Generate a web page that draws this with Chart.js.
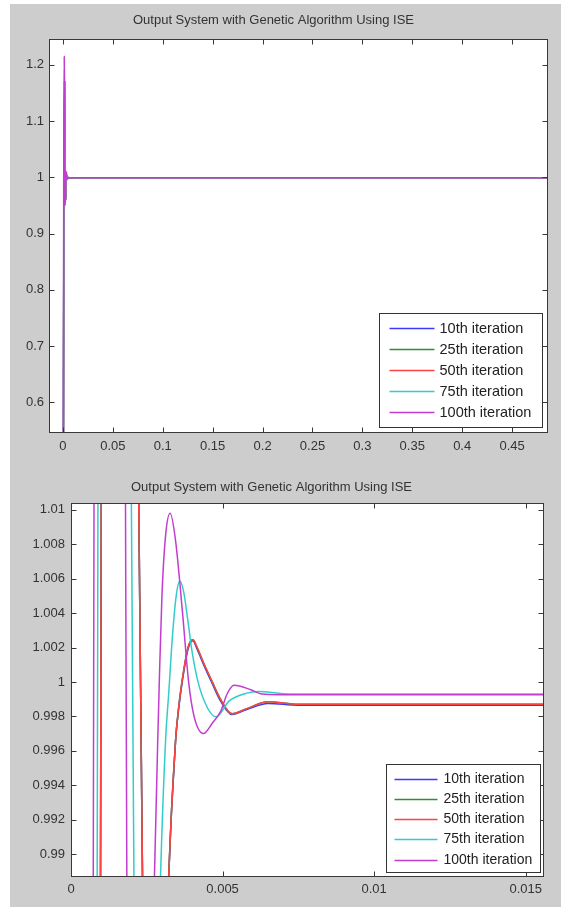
<!DOCTYPE html>
<html>
<head>
<meta charset="utf-8">
<script src="https://cdn.jsdelivr.net/npm/chart.js@4.4.1/dist/chart.umd.min.js"></script>
<style>
  html, body { margin: 0; padding: 0; background: #fff; }
  #figure { position: absolute; left: 10px; top: 4px; width: 551px; height: 903px; background: #cdcdcd; }
  canvas { position: absolute; left: 0; }
  #topCanvas { top: 0; }
  #bottomCanvas { top: 460px; }
</style>
</head>
<body>
<div id="figure"></div>
<canvas id="topCanvas" width="561" height="460"></canvas>
<canvas id="bottomCanvas" width="561" height="447"></canvas>
<script>
const seriesLabels = ['10th iteration', '25th iteration', '50th iteration', '75th iteration', '100th iteration'];
const seriesColors = ['#3a3aff', '#2d8f2d', '#ff4242', '#33cccc', '#c23ccf'];

// step responses (time in s, output)
const time10 = [0, 0.0006, 0.00097, 0.00101, 0.0016, 0.00218, 0.00238, 0.0028, 0.00322, 0.00345, 0.00355, 0.00366, 0.00386, 0.00402, 0.00416, 0.0044, 0.00466, 0.00493, 0.00531, 0.0058, 0.0065, 0.0075, 0.5];
const resp10 = [0, 0.65, 0.985, 1.02, 1.17, 1.02, 0.985, 0.96, 0.9885, 0.9966, 0.9984, 0.9999, 1.0019, 1.0024, 1.0019, 1.0009, 0.9999, 0.9989, 0.9981, 0.9984, 0.99875, 0.99865, 0.99865];

const time25 = [0, 0.0006, 0.00097, 0.00101, 0.0016, 0.00218, 0.00238, 0.0028, 0.00322, 0.00345, 0.00355, 0.00366, 0.00386, 0.00402, 0.00416, 0.0044, 0.00466, 0.00493, 0.00531, 0.0058, 0.0065, 0.0075, 0.5];
const resp25 = [0, 0.65, 0.985, 1.02, 1.17, 1.02, 0.985, 0.96, 0.9885, 0.9966, 0.9985, 1.0, 1.002, 1.00245, 1.002, 1.001, 1.0, 0.999, 0.99815, 0.99845, 0.99885, 0.9987, 0.9987];

const time50 = [0, 0.0006, 0.00097, 0.00101, 0.0016, 0.00218, 0.00238, 0.0028, 0.00322, 0.00345, 0.00355, 0.00366, 0.00386, 0.00402, 0.00416, 0.0044, 0.00466, 0.00493, 0.00531, 0.0058, 0.0065, 0.0075, 0.5];
const resp50 = [0, 0.65, 0.985, 1.02, 1.17, 1.02, 0.985, 0.96, 0.9885, 0.9966, 0.9985, 1.0, 1.002, 1.00245, 1.002, 1.001, 1.0, 0.999, 0.99815, 0.99845, 0.99885, 0.9987, 0.9987];

const time75 = [0, 0.0005, 0.00086, 0.0009, 0.0014, 0.00196, 0.00209, 0.0025, 0.00295, 0.00312, 0.00323, 0.00334, 0.00347, 0.00359, 0.00372, 0.00386, 0.00399, 0.00419, 0.0045, 0.00479, 0.00522, 0.0058, 0.0062, 0.0072, 0.5];
const resp75 = [0, 0.6, 0.985, 1.02, 1.19, 1.02, 0.985, 0.955, 0.9885, 0.9966, 0.9995, 1.0025, 1.005, 1.00586, 1.0052, 1.0035, 1.0018, 1.0, 0.9985, 0.99797, 0.9989, 0.99935, 0.99944, 0.9993, 0.9993];

const time100 = [0, 0.0004, 0.00073, 0.00077, 0.0013, 0.00178, 0.00185, 0.0023, 0.00275, 0.00286, 0.00292, 0.003, 0.00312, 0.00327, 0.00345, 0.00368, 0.00388, 0.00406, 0.00437, 0.00466, 0.00494, 0.00515, 0.00538, 0.00593, 0.0063, 0.0075, 0.5];
const resp100 = [0, 0.55, 0.985, 1.02, 1.215, 1.02, 0.985, 0.95, 0.9885, 0.9965, 1.0005, 1.005, 1.0085, 1.0098, 1.0082, 1.004, 1.0, 0.998, 0.997, 0.9976, 0.9983, 0.9993, 0.9998, 0.99955, 0.9993, 0.99925, 0.99925];

const topXTicks = [0, 0.05, 0.1, 0.15, 0.2, 0.25, 0.3, 0.35, 0.4, 0.45];
const topYTicks = [0.6, 0.7, 0.8, 0.9, 1, 1.1, 1.2];
const bottomXTicks = [0, 0.005, 0.01, 0.015];
const bottomYTicks = [0.99, 0.992, 0.994, 0.996, 0.998, 1, 1.002, 1.004, 1.006, 1.008, 1.01];

const times = [time10, time25, time50, time75, time100];
const responses = [resp10, resp25, resp50, resp75, resp100];

const chartTitle = 'Output System with Genetic Algorithm Using ISE';

Chart.defaults.font.family = '"Liberation Sans", Arial, sans-serif';
Chart.defaults.color = '#333';

function makeDatasets() {
    return seriesLabels.map((label, i) => ({
        label: label,
        data: times[i].map((t, j) => ({ x: t, y: responses[i][j] })),
        borderColor: seriesColors[i],
        backgroundColor: seriesColors[i],
        borderWidth: 1.5,
        pointRadius: 0,
        cubicInterpolationMode: 'monotone',
        clip: 0,
        order: seriesLabels.length - i
    }));
}

// white axes box, inward ticks on all four sides, boxed legend in the corner
const matlabAxes = {
    id: 'matlabAxes',
    beforeDatasetsDraw(chart) {
        const { ctx, chartArea: a } = chart;
        ctx.save();
        ctx.fillStyle = '#fff';
        ctx.fillRect(a.left, a.top, a.right - a.left, a.bottom - a.top);
        ctx.restore();
    },
    afterDraw(chart, args, opts) {
        const { ctx, chartArea: a, scales } = chart;
        const L = Math.round(a.left) + 0.5, R = Math.round(a.right) + 0.5;
        const T = Math.round(a.top) + 0.5, B = Math.round(a.bottom) + 0.5;
        ctx.save();
        ctx.strokeStyle = '#383838';
        ctx.lineWidth = 1;
        ctx.beginPath();
        scales.x.ticks.forEach(t => {
            const px = Math.round(scales.x.getPixelForValue(t.value)) + 0.5;
            ctx.moveTo(px, B); ctx.lineTo(px, B - 5);
            ctx.moveTo(px, T); ctx.lineTo(px, T + 5);
        });
        scales.y.ticks.forEach(t => {
            const py = Math.round(scales.y.getPixelForValue(t.value)) + 0.5;
            ctx.moveTo(L, py); ctx.lineTo(L + 5, py);
            ctx.moveTo(R, py); ctx.lineTo(R - 5, py);
        });
        ctx.stroke();
        ctx.strokeRect(L, T, R - L, B - T);

        const lg = opts.legend;
        const bx = Math.round(a.right - lg.right - lg.width) + 0.5;
        const by = Math.round(a.bottom - lg.bottom - lg.height) + 0.5;
        ctx.fillStyle = '#fff';
        ctx.fillRect(bx, by, lg.width, lg.height);
        ctx.strokeStyle = '#333';
        ctx.strokeRect(bx, by, lg.width, lg.height);
        ctx.font = lg.fontSize + 'px "Liberation Sans", Arial, sans-serif';
        ctx.textBaseline = 'middle';
        ctx.textAlign = 'left';
        chart.data.datasets.forEach((ds, i) => {
            const y = Math.round(by + lg.first + i * lg.gap) + 0.5;
            ctx.strokeStyle = ds.borderColor;
            ctx.lineWidth = 1.5;
            ctx.beginPath();
            ctx.moveTo(bx + lg.lineStart, y);
            ctx.lineTo(bx + lg.lineEnd, y);
            ctx.stroke();
            ctx.fillStyle = '#222';
            ctx.fillText(ds.label, bx + lg.textX, y);
        });
        ctx.restore();
    }
};

function makeOptions(c) {
    return {
        responsive: false,
        animation: false,
        events: [],
        layout: { padding: { left: 0, right: c.padRight, top: 0, bottom: 0 } },
        plugins: {
            legend: { display: false },
            tooltip: { enabled: false },
            title: {
                display: true,
                text: chartTitle,
                color: '#333',
                font: { size: 13, weight: 'normal' },
                padding: { top: c.titleTop, bottom: c.titleBottom }
            },
            matlabAxes: { legend: c.legend }
        },
        scales: {
            x: {
                type: 'linear',
                min: c.xMin,
                max: c.xMax,
                grid: { display: false, drawTicks: false },
                border: { display: false },
                afterBuildTicks: s => { s.ticks = c.xTicks.map(v => ({ value: v })); },
                afterFit: s => { s.height = c.xHeight; },
                ticks: { padding: c.xPad, color: '#333', font: { size: 13 }, autoSkip: false, maxRotation: 0, callback: v => String(v) }
            },
            y: {
                type: 'linear',
                min: c.yMin,
                max: c.yMax,
                grid: { display: false, drawTicks: false },
                border: { display: false },
                afterBuildTicks: s => { s.ticks = c.yTicks.map(v => ({ value: v })); },
                afterFit: s => { s.width = c.yWidth; },
                ticks: { padding: c.yPad, color: '#333', font: { size: 13 }, autoSkip: false, callback: v => String(v) }
            }
        }
    };
}

new Chart(document.getElementById('topCanvas').getContext('2d'), {
    type: 'line',
    data: { datasets: makeDatasets() },
    options: makeOptions({
        padRight: 14, titleTop: 13, titleBottom: 10.4,
        xMin: -0.014, xMax: 0.485, xTicks: topXTicks, xHeight: 28, xPad: 7,
        yMin: 0.547, yMax: 1.246, yTicks: topYTicks, yWidth: 49, yPad: 5,
        legend: { width: 163, height: 114, right: 5, bottom: 5, first: 14, gap: 21.2, lineStart: 10, lineEnd: 55, textX: 60, fontSize: 14.5 }
    }),
    plugins: [matlabAxes]
});

new Chart(document.getElementById('bottomCanvas').getContext('2d'), {
    type: 'line',
    data: { datasets: makeDatasets() },
    options: makeOptions({
        padRight: 18, titleTop: 19.2, titleBottom: 8.2,
        xMin: 0, xMax: 0.01557, xTicks: bottomXTicks, xHeight: 31, xPad: 6,
        yMin: 0.98872, yMax: 1.0104, yTicks: bottomYTicks, yWidth: 71, yPad: 6,
        legend: { width: 154, height: 108, right: 3, bottom: 4, first: 14, gap: 20.3, lineStart: 8, lineEnd: 51, textX: 57, fontSize: 14 }
    }),
    plugins: [matlabAxes]
});
</script>
</body>
</html>
